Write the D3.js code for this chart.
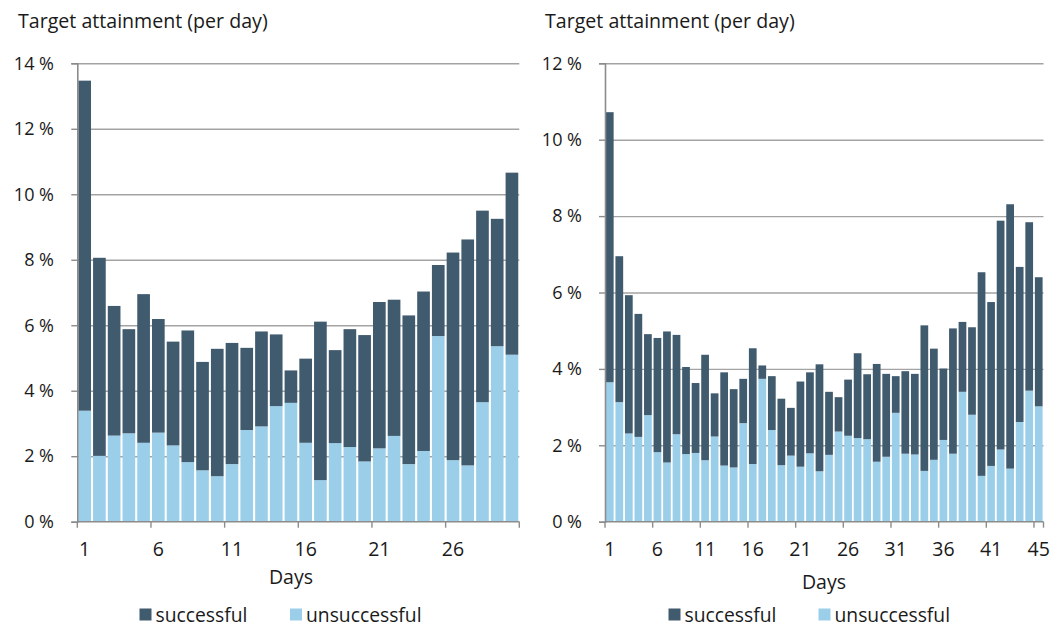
<!DOCTYPE html>
<html>
<head>
<meta charset="utf-8">
<script src="https://cdn.jsdelivr.net/npm/d3@7"></script>
<style>
  html, body { margin: 0; padding: 0; background: #fff; }
  svg { display: block; }
  text { font-family: "Open Sans", sans-serif; fill: #1a1a1a; }
</style>
</head>
<body>
<svg id="chart" width="1063" height="628"></svg>
<script>
// ---------- DATA ----------
const titleText = "Target attainment (per day)";
const xTitle = "Days";
const seriesNames = ["successful", "unsuccessful"];

// Left chart
const daysLeft = [1,2,3,4,5,6,7,8,9,10,11,12,13,14,15,16,17,18,19,20,21,22,23,24,25,26,27,28,29,30];
const unsuccessfulLeft = [3.39,2.01,2.63,2.70,2.41,2.72,2.33,1.82,1.57,1.39,1.76,2.80,2.91,3.53,3.63,2.41,1.27,2.40,2.28,1.84,2.24,2.62,1.76,2.16,5.67,1.88,1.72,3.65,5.36,5.10];
const successfulLeft   = [10.08,6.05,3.96,3.18,4.54,3.47,3.17,4.02,3.31,3.89,3.70,2.51,2.90,2.19,0.99,2.57,4.84,2.84,3.60,3.86,4.47,4.16,4.54,4.87,2.17,6.34,6.90,5.85,3.89,5.56];
const yTicksLeft = [0,2,4,6,8,10,12,14];
const xTickDaysLeft = [1,6,11,16,21,26];
const xTickLabelsLeft = ["1","6","11","16","21","26"];

// Right chart
const daysRight = [1,2,3,4,5,6,7,8,9,10,11,12,13,14,15,16,17,18,19,20,21,22,23,24,25,26,27,28,29,30,31,32,33,34,35,36,37,38,39,40,41,42,43,44,45,46];
const unsuccessfulRight = [3.65,3.13,2.31,2.22,2.79,1.82,1.55,2.29,1.77,1.80,1.61,2.23,1.47,1.42,2.58,1.51,3.74,2.40,1.48,1.73,1.44,1.79,1.32,1.75,2.36,2.25,2.19,2.16,1.57,1.70,2.85,1.78,1.76,1.33,1.62,2.14,1.78,3.40,2.80,1.20,1.46,1.89,1.39,2.61,3.43,3.02];
const successfulRight   = [7.07,3.82,3.62,3.22,2.12,2.99,3.43,2.60,2.28,1.83,2.76,1.13,2.44,2.05,1.16,3.03,0.35,1.41,1.74,1.25,2.23,2.12,2.80,1.65,0.90,1.47,2.22,1.70,2.56,2.17,0.96,2.16,2.11,3.81,2.91,1.87,3.28,1.83,2.29,5.33,4.29,5.99,6.92,4.06,4.41,3.38];
const yTicksRight = [0,2,4,6,8,10,12];
const xTickDaysRight = [1,6,11,16,21,26,31,36,41,46];
const xTickLabelsRight = ["1","6","11","16","21","26","31","36","41","45"];

// ---------- STYLE ----------
const colors = { successful: "#405A6E", unsuccessful: "#9BCFE9" };
const gridColor = "#a3a3a3";
const axisColor = "#8c8c8c";

const svg = d3.select("#chart");

function drawChart(cfg) {
  const { left, right, top, bottom, days, unsucc, succ, yTicks, yMax,
          tickDays, tickLabels, pad, titleX, yLabelX, daysX, daysY, legendX } = cfg;

  const x = d3.scaleBand().domain(days).range([left, right])
    .paddingInner(pad).paddingOuter(pad / 2);
  const y = d3.scaleLinear().domain([0, yMax]).range([bottom, top]);
  const g = svg.append("g");

  // title
  g.append("text").attr("x", titleX).attr("y", 28)
    .attr("font-size", 19.6).text(titleText);

  // gridlines
  const grid = g.append("g").attr("transform", `translate(${left},0)`)
    .call(d3.axisLeft(y).tickValues(yTicks.filter(v => v > 0)).tickSize(-(right - left)).tickFormat(""));
  grid.select(".domain").remove();
  grid.selectAll("line").attr("stroke", gridColor).attr("stroke-width", 1.4);

  // bars
  const stackData = days.map((d, i) => ({ day: d, unsuccessful: unsucc[i], successful: succ[i] }));
  const stacked = d3.stack().keys(["unsuccessful", "successful"])(stackData);
  g.append("g").selectAll("g").data(stacked).join("g")
    .attr("fill", s => colors[s.key])
    .selectAll("rect").data(s => s).join("rect")
    .attr("x", d => x(d.data.day))
    .attr("width", x.bandwidth())
    .attr("y", d => y(d[1]))
    .attr("height", d => y(d[0]) - y(d[1]));

  // y axis
  const yAx = g.append("g").attr("transform", `translate(${left},0)`)
    .call(d3.axisLeft(y).tickValues(yTicks).tickSize(6).tickPadding(0).tickFormat(v => v + " %"));
  yAx.select(".domain").attr("stroke", axisColor).attr("stroke-width", 1.6);
  yAx.selectAll(".tick line").attr("stroke", axisColor).attr("stroke-width", 1.4);
  yAx.selectAll(".tick text").attr("x", yLabelX - left).attr("font-size", 18)
    .attr("font-family", "'Open Sans', sans-serif").attr("fill", "#1a1a1a").attr("text-anchor", "end");

  // x axis labels (centred on categories)
  const step = x.step();
  const xAx = g.append("g").attr("transform", `translate(0,${bottom})`)
    .call(d3.axisBottom(x).tickValues(tickDays.filter(d => days.includes(d)))
      .tickSize(0).tickPadding(0).tickFormat(d => tickLabels[tickDays.indexOf(d)]));
  xAx.select(".domain").remove();
  xAx.selectAll(".tick text").attr("y", 34).attr("dy", 0).attr("font-size", 19.5)
    .attr("font-family", "'Open Sans', sans-serif").attr("fill", "#1a1a1a");
  // boundary tick marks every 5 categories
  const boundaries = tickDays.map(d => d - 1).filter(i => i <= days.length);
  if (!boundaries.includes(days.length)) boundaries.push(days.length);
  g.append("g").selectAll("line").data(boundaries).join("line")
    .attr("x1", i => i < days.length ? x(days[i]) - step * pad / 2 : right)
    .attr("x2", i => i < days.length ? x(days[i]) - step * pad / 2 : right)
    .attr("y1", bottom).attr("y2", bottom + 6)
    .attr("stroke", axisColor).attr("stroke-width", 1.4);
  g.append("line").attr("x1", left).attr("x2", right).attr("y1", bottom).attr("y2", bottom)
    .attr("stroke", axisColor).attr("stroke-width", 1.6);

  // axis title
  g.append("text").attr("x", daysX).attr("y", daysY).attr("text-anchor", "middle")
    .attr("font-size", 19.5).text(xTitle);

  // legend
  const lg = g.append("g");
  seriesNames.forEach((name, i) => {
    const lx = legendX[i];
    lg.append("rect").attr("x", lx).attr("y", 608.5).attr("width", 12).attr("height", 12)
      .attr("fill", colors[name]);
    lg.append("text").attr("x", lx + 16).attr("y", 621.5).attr("font-size", 19.3).text(name);
  });
}

drawChart({
  left: 77.3, right: 519.3, top: 63.3, bottom: 521.7,
  days: daysLeft, unsucc: unsuccessfulLeft, succ: successfulLeft,
  yTicks: yTicksLeft, yMax: 14, tickDays: xTickDaysLeft, tickLabels: xTickLabelsLeft,
  pad: 0.14, titleX: 18, yLabelX: 54, daysX: 291, daysY: 584, legendX: [139.5, 290]
});

drawChart({
  left: 605, right: 1043.5, top: 63.3, bottom: 521.7,
  days: daysRight, unsucc: unsuccessfulRight, succ: successfulRight,
  yTicks: yTicksRight, yMax: 12, tickDays: xTickDaysRight, tickLabels: xTickLabelsRight,
  pad: 0.19, titleX: 545, yLabelX: 582, daysX: 824, daysY: 589, legendX: [668.5, 818.5]
});
</script>
</body>
</html>
